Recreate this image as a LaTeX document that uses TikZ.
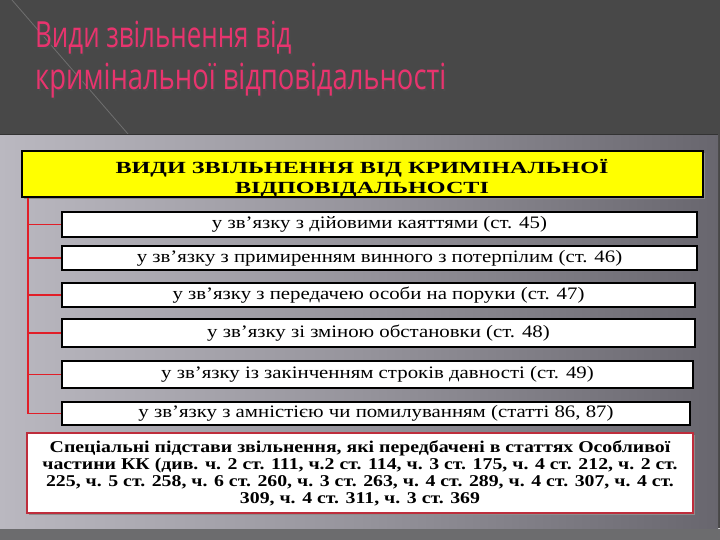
\documentclass[tikz,border=0pt]{standalone}
\usepackage{fontspec}
\setmainfont{Liberation Serif}
\newfontfamily\titlefont{Open Sans}
\newfontfamily\boxfont[FakeStretch=1.19]{Liberation Serif}
\newfontfamily\hdfont[FakeStretch=1.42]{Liberation Serif}
\newfontfamily\spfont[FakeStretch=1.2]{Liberation Serif}
\definecolor{bgc}{RGB}{72,72,72}
\definecolor{bandc}{RGB}{108,108,110}
\definecolor{panelL}{RGB}{186,184,192}
\definecolor{panelM}{RGB}{150,148,156}
\definecolor{panelR}{RGB}{104,102,110}
\definecolor{titlec}{RGB}{232,52,110}
\definecolor{yel}{RGB}{255,255,0}
\definecolor{connc}{RGB}{225,30,40}
\definecolor{redb}{RGB}{190,45,60}
\begin{document}
\begin{tikzpicture}[x=1pt,y=-1pt,
  ttl/.style={anchor=base west, inner sep=0pt, font=\titlefont\fontsize{36}{40}\selectfont},
  wbox/.style={draw=black, line width=2pt, fill=white, inner sep=0pt,
    font=\boxfont\fontsize{17.5}{20}\selectfont},
  conn/.style={draw=connc, line width=1.8pt}]
\useasboundingbox (0,0) rectangle (720,540);
% background
\fill[bgc] (0,0) rectangle (720,540);
\draw[gray!70!bgc, line width=0.8pt] (12,0) -- (128,134);
\fill[bandc] (0,528) rectangle (720,540);
\draw[gray!30, line width=1pt] (0,528.5) -- (720,528.5);
% panel
\shade[left color=panelL, right color=panelR, middle color=panelM] (0,135) rectangle (718,528);
\draw[black!80, line width=1pt] (0,135) -- (718,135);
% title
\node[ttl, text=black!70] (t1s) at (36.5,49.5) {\scalebox{0.72}[1]{Види звільнення від}};
\node[ttl, text=titlec] (t1) at (35,48) {\scalebox{0.72}[1]{Види звільнення від}};
\node[ttl, text=black!70] (t2s) at (36.5,91.5) {\scalebox{0.76}[1]{кримінальної відповідальності}};
\node[ttl, text=titlec] (t2) at (35,90) {\scalebox{0.76}[1]{кримінальної відповідальності}};
% header
\fill[black!45] (24,153) rectangle (705,199);
\node[draw=black, line width=2.2pt, fill=yel, minimum width=681pt, minimum height=46pt,
  inner sep=0pt] (hd) at (362.5,174) {};
\node[align=center, inner sep=0pt, font=\hdfont\bfseries\fontsize{17}{20}\selectfont] (hdt) at (362,178)
  {ВИДИ ЗВІЛЬНЕННЯ ВІД КРИМІНАЛЬНОЇ\\ВІДПОВІДАЛЬНОСТІ};
% boxes
\node[wbox, minimum width=635pt, minimum height=25pt] (b1) at (379.5,224.5) {у зв’язку з дійовими каяттями (ст. 45)};
\node[wbox, minimum width=635pt, minimum height=24pt] (b2) at (379.5,258) {у зв’язку з примиренням винного з потерпілим (ст. 46)};
\node[wbox, minimum width=633pt, minimum height=24pt] (b3) at (378.5,295) {у зв’язку з передачею особи на поруки (ст. 47)};
\node[wbox, minimum width=633pt, minimum height=28pt] (b4) at (378.5,333) {у зв’язку зі зміною обстановки (ст. 48)};
\node[wbox, minimum width=631pt, minimum height=27pt] (b5) at (377.5,374.5) {у зв’язку із закінченням строків давності (ст. 49)};
\node[wbox, minimum width=628pt, minimum height=23pt] (b6) at (376,413.5) {у зв’язку з амністією чи помилуванням (статті 86, 87)};
% connectors
\coordinate (tr) at ([xshift=7pt]hd.south west);
\draw[conn] (tr) -- (tr |- b6.west);
\foreach \b in {b1,b2,b3,b4,b5,b6} \draw[conn] (tr |- \b.west) -- (\b.west);
% bottom box
\fill[black!45] (29,435) rectangle (695,515);
\node[draw=redb, line width=2pt, fill=white, minimum width=666pt, minimum height=80pt,
  align=center, inner sep=0pt, font=\spfont\bfseries\fontsize{16.5}{17}\selectfont] (sp) at (360,473)
  {Спеціальні підстави звільнення, які передбачені в статтях Особливої\\
   частини КК (див. ч. 2 ст. 111, ч.2 ст. 114, ч. 3 ст. 175, ч. 4 ст. 212, ч. 2 ст.\\
   225, ч. 5 ст. 258, ч. 6 ст. 260, ч. 3 ст. 263, ч. 4 ст. 289, ч. 4 ст. 307, ч. 4 ст.\\
   309, ч. 4 ст. 311, ч. 3 ст. 369};
\end{tikzpicture}
\end{document}
